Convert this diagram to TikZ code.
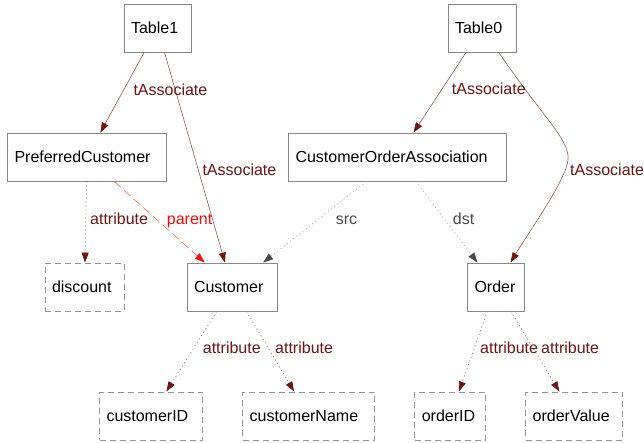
\documentclass[tikz,border=0pt]{standalone}
\usepackage{fontspec}
\setmainfont{Liberation Sans}
\usetikzlibrary{arrows.meta}
\definecolor{dred}{HTML}{701515}
\definecolor{assocline}{HTML}{9E5555}
\definecolor{attrline}{HTML}{B06A6A}
\definecolor{parentline}{HTML}{FF6A50}
\definecolor{parentred}{HTML}{FF0A0A}
\definecolor{refline}{HTML}{AAAAAA}
\definecolor{refdark}{HTML}{4A4A4A}
\definecolor{boxgray}{HTML}{888888}
\begin{document}
\begin{tikzpicture}[x=1pt,y=-1pt,
  font=\fontsize{16}{19}\selectfont,
  box/.style={draw=boxgray, line width=0.9pt, fill=white, minimum height=48pt,
    inner xsep=7pt, inner ysep=0pt, align=left},
  attrbox/.style={box, draw=boxgray!90, dash pattern=on 6pt off 4pt},
  tip/.style={-{Triangle[length=10pt,width=7pt,color=#1,fill=#1]}},
  assoc/.style={draw=assocline, line width=0.6pt, tip=dred},
  attr/.style={draw=attrline, line width=0.8pt, dash pattern=on 1pt off 3pt, tip=dred},
  parentedge/.style={draw=parentline, line width=0.6pt, dash pattern=on 9pt off 4pt, tip=parentred},
  refedge/.style={draw=refline, line width=0.8pt, dash pattern=on 1pt off 3pt, tip=refdark},
  lbl/.style={inner sep=0pt, anchor=base west, text=dred},
]
\useasboundingbox[fill=white] (0,0) rectangle (644,442);

% nodes
\node[box, text width=53pt] (Table1) at (157.5,28) {Table1};
\node[box, text width=54pt] (Table0) at (482,28) {Table0};
\node[box, text width=145pt] (PC) at (87,157) {PreferredCustomer};
\node[box, text width=204pt] (COA) at (397.5,157) {CustomerOrderAssociation};
\node[attrbox, text width=65pt] (discount) at (84.5,287) {discount};
\node[box, text width=76pt] (Customer) at (232,287) {Customer};
\node[box, text width=43pt] (Order) at (496,287) {Order};
\node[attrbox, text width=89pt] (customerID) at (151,416) {customerID};
\node[attrbox, text width=118pt] (customerName) at (308.7,416) {customerName};
\node[attrbox, text width=57pt] (orderID) at (450.3,416) {orderID};
\node[attrbox, text width=83pt] (orderValue) at (574.2,416) {orderValue};

% edges
\draw[assoc] (Table1) -- (PC);
\draw[assoc] (Table1) -- (Customer);
\draw[assoc] (Table0) -- (COA);
\draw[assoc] (Table0) .. controls (545,120) and (570,140) .. (568,160)
  .. controls (566,180) and (530,230) .. (Order);
\draw[attr] (PC) -- (discount);
\draw[parentedge] (PC) -- (Customer);
\draw[refedge] (COA) -- (Customer);
\draw[refedge] (COA) -- (Order);
\draw[attr] (Customer) -- (customerID);
\draw[attr] (Customer) -- (customerName);
\draw[attr] (Order) -- (orderID);
\draw[attr] (Order) -- (orderValue);

% labels
\node[lbl] (l1) at (133.3,95) {tAssociate};
\node[lbl] (l2) at (202.3,175.7) {tAssociate};
\node[lbl] (l3) at (451.7,94.5) {tAssociate};
\node[lbl] (l4) at (570,175.7) {tAssociate};
\node[lbl] (l5) at (90,224) {attribute};
\node[lbl, text=parentred] (l6) at (166.7,224) {parent};
\node[lbl, text=refdark] (l7) at (335.7,224) {src};
\node[lbl, text=refdark] (l8) at (452.7,224) {dst};
\node[lbl] (l9) at (202.7,353.3) {attribute};
\node[lbl] (l10) at (275,353.3) {attribute};
\node[lbl] (l11) at (480,353.3) {attribute};
\node[lbl] (l12) at (541,353.3) {attribute};
\end{tikzpicture}
\end{document}
